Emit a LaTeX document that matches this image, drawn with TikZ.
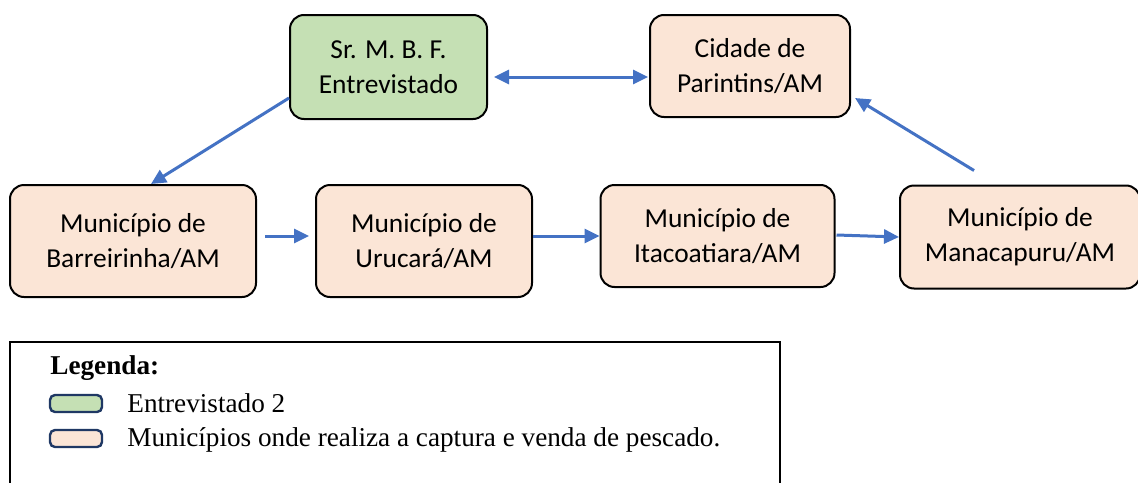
\documentclass[tikz,border=0pt]{standalone}
\usepackage{fontspec}
\setmainfont{Liberation Serif}
\newfontfamily\boxfont{Carlito}
\usetikzlibrary{shapes.geometric, arrows, arrows.meta}
\definecolor{intgreen}{HTML}{C5E0B4}
\definecolor{munpeach}{HTML}{FBE5D6}
\definecolor{arrowblue}{HTML}{4472C4}
\definecolor{keyblue}{HTML}{1F3864}
\tikzstyle{interview} = [rectangle, rounded corners=7pt, align=center, draw=black, line width=1pt, fill=intgreen, font=\boxfont\fontsize{13.7}{17.5}\selectfont]
\tikzstyle{city} = [interview, fill=munpeach]
\tikzstyle{arrow} = [line width=1.5pt, ->, >={Triangle[length=7.5pt,width=7pt]}, draw=arrowblue]
\tikzstyle{keybox} = [rectangle, rounded corners=2.5pt, draw=keyblue, line width=1.2pt, minimum width=26pt, minimum height=8.5pt, inner sep=0pt]
\tikzstyle{keytext} = [anchor=west, inner sep=0pt, font=\fontsize{13.6}{16}\selectfont]
\begin{document}
\begin{tikzpicture}[x=0.5pt, y=-0.5pt]
    \clip (0,0) rectangle (1138,482);
    \fill[white] (0,0) rectangle (1138,482);

    \node (smbf) [interview, minimum width=98.5pt, minimum height=52pt] at (388.5,67) {Sr. M. B. F.\\Entrevistado};
    \node (parin) [city, minimum width=100pt, minimum height=51pt] at (750,66) {Cidade de\\Parintins/AM};
    \node (barre) [city, minimum width=123pt, minimum height=56pt] at (133,241) {Município de\\Barreirinha/AM};
    \node (uruca) [city, minimum width=108pt, minimum height=56pt] at (424,241) {Município de\\Urucará/AM};
    \node (itaco) [city, minimum width=117pt, minimum height=51pt] at (717.5,236) {Município de\\Itacoatiara/AM};
    \node (manac) [city, minimum width=120pt, minimum height=51.5pt] at (1020,237) {Município de\\Manacapuru/AM};

    \draw [arrow] ([yshift=-15.5pt]smbf.west) -- ([xshift=9pt]barre.north);
    \draw [arrow, <->] ([xshift=3pt,yshift=-5pt]smbf.east) -- ([xshift=-0.5pt,yshift=-5.5pt]parin.west);
    \draw [arrow] ([xshift=4pt,yshift=2.5pt]barre.east) -- ([xshift=-3pt,yshift=2.5pt]uruca.west);
    \draw [arrow] ([yshift=2.5pt]uruca.east) -- (itaco.west);
    \draw [arrow] ([xshift=0.5pt,yshift=0.5pt]itaco.east) -- (manac.west);
    \draw [arrow] ([xshift=-23pt,yshift=7pt]manac.north) -- ([xshift=2pt,yshift=-16pt]parin.east);

    % legend
    \draw[line width=0.8pt] (10,342) rectangle (780,520);
    \node (legtitle) [keytext, font=\bfseries\fontsize{13.6}{16}\selectfont] at (50,368) {Legenda:};
    \node (keyint) [keybox, fill=intgreen] at (76,403.5) {};
    \node (keymun) [keybox, fill=munpeach] at (76,438.5) {};
    \node (txtint) [keytext] at (127,403) {Entrevistado 2};
    \node (txtmun) [keytext] at (127,440) {Municípios onde realiza a captura e venda de pescado.};
\end{tikzpicture}
\end{document}
